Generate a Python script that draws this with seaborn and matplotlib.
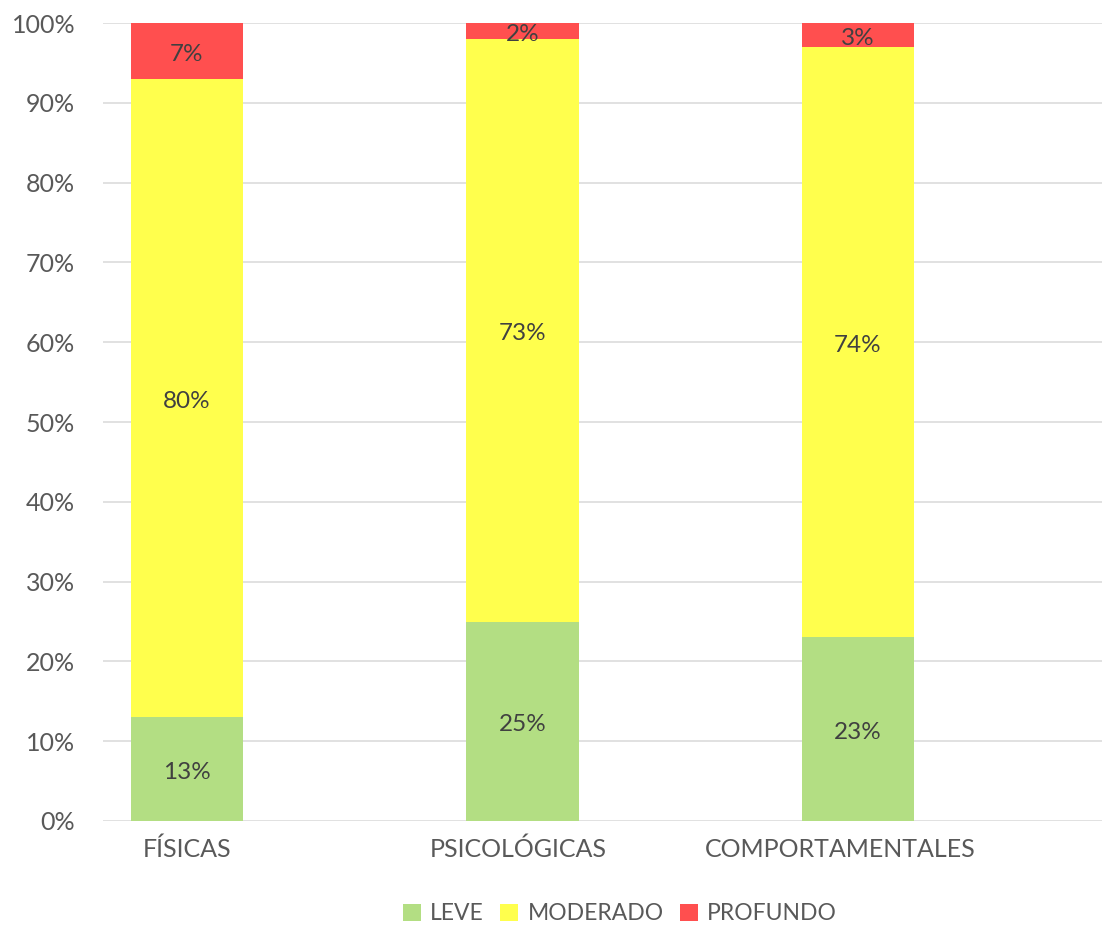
import matplotlib
matplotlib.use("Agg")
import matplotlib.pyplot as plt
import matplotlib.transforms as mtransforms
import seaborn as sns
import numpy as np
import pandas as pd
from matplotlib.patches import Patch

categories = ["FÍSICAS", "PSICOLÓGICAS", "COMPORTAMENTALES"]
leve = [13, 25, 23]
moderado = [80, 73, 74]
profundo = [7, 2, 3]
series_names = ["LEVE", "MODERADO", "PROFUNDO"]
colors = ["#B3DE83", "#FFFF4D", "#FF4F4F"]
yticks = [0, 10, 20, 30, 40, 50, 60, 70, 80, 90, 100]

sns.set_theme(style="white")
plt.rcParams["font.family"] = ["Lato", "DejaVu Sans"]

fig = plt.figure(figsize=(11.02, 9.26), dpi=100)
ax = fig.add_axes([103 / 1102, 105 / 926, 1 - 103 / 1102, 798 / 926])

df = pd.DataFrame({"cat": categories, "LEVE": leve, "MODERADO": moderado, "PROFUNDO": profundo})
bottom = np.zeros(len(categories))
for name, col in zip(series_names, colors):
    vals = np.array(df[name], dtype=float)
    sns.barplot(x=df["cat"], y=vals, bottom=bottom, color=col, width=0.334,
                saturation=1, ax=ax, zorder=2, linewidth=0, order=categories)
    for i, v in enumerate(vals):
        ax.text(i, bottom[i] + v / 2 - 0.4, f"{int(v)}%", ha="center", va="center",
                fontsize=17.5, color="#404040", zorder=3)
    bottom = bottom + vals

ax.set_xlim(-0.25, 2.727)
ax.set_ylim(0, 100)
ax.set_yticks(yticks)
ax.set_yticklabels([f"{t}%" for t in yticks])
ax.yaxis.grid(True, color="#DEDEDE", linewidth=1.3, zorder=0)
ax.set_axisbelow(True)
for s in ax.spines.values():
    s.set_visible(False)
ax.tick_params(axis="both", length=0, labelsize=18, labelcolor="#595959")
ax.tick_params(axis="y", pad=20)
ax.tick_params(axis="x", pad=12)
ax.set_xlabel("")
ax.set_ylabel("")

# nudge the long last label left, as in the reference
xt = ax.get_xticklabels()
shifts = [0, -4, -18]
for lab, dx in zip(xt, shifts):
    lab.set_transform(lab.get_transform() + mtransforms.ScaledTranslation(dx / 100, 0, fig.dpi_scale_trans))

handles = [Patch(facecolor=c, edgecolor="none") for c in colors]
fig.legend(handles, series_names, loc="center", bbox_to_anchor=(620 / 1102, 1 - 914 / 926),
           ncol=3, frameon=False, fontsize=16.5, labelcolor="#595959",
           handlelength=0.8, handleheight=0.8, handletextpad=0.4, columnspacing=0.7)

fig.savefig("out.png", dpi=100)
